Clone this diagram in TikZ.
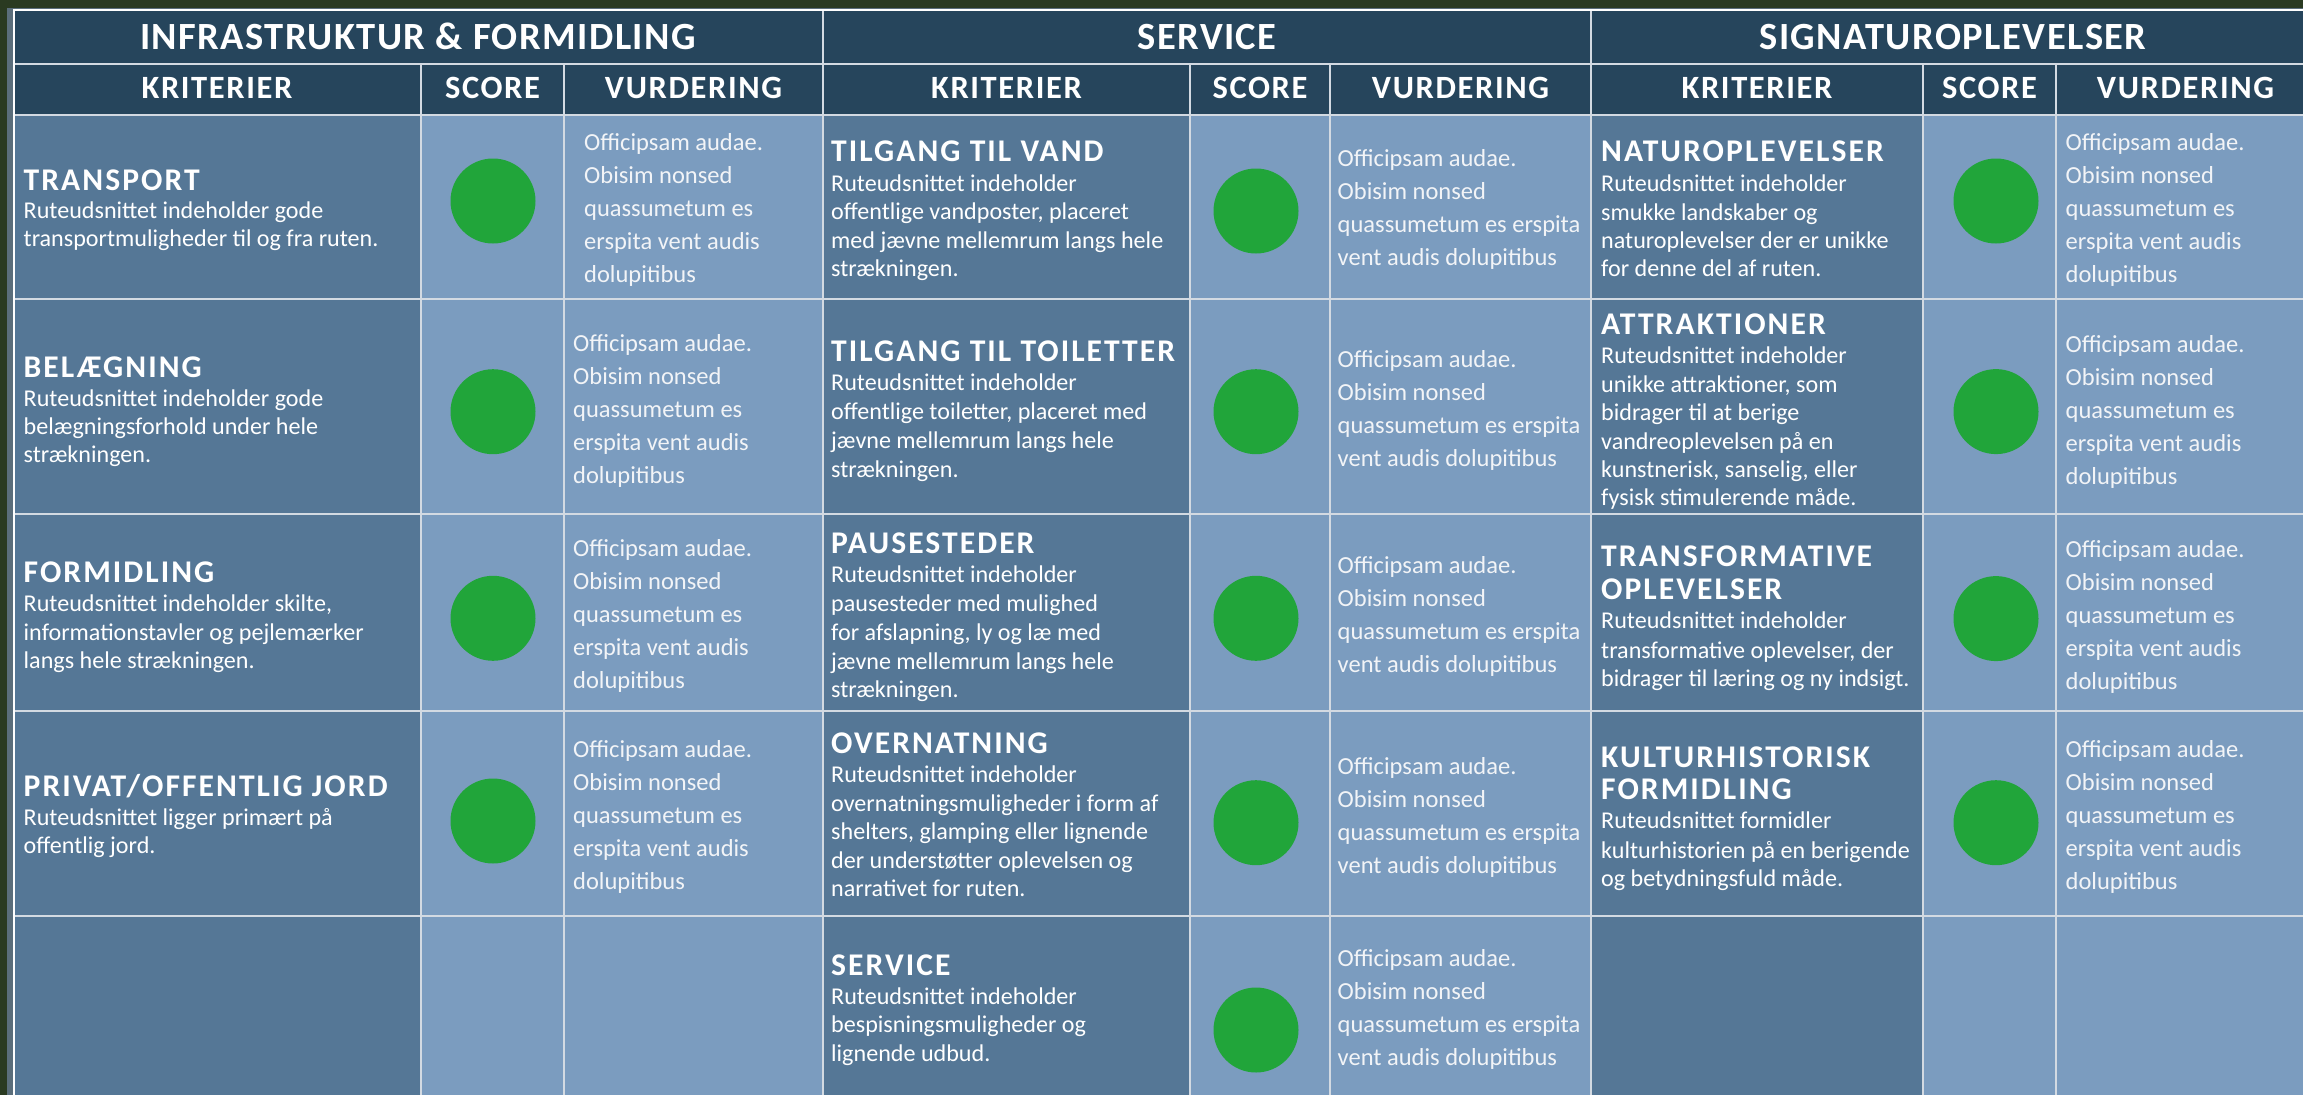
\documentclass[tikz,border=0pt]{standalone}
\usepackage{fontspec}
\setmainfont{Carlito}
\newfontfamily\hfam{Carlito}[LetterSpace=5]
\newfontfamily\gfam{Carlito}[LetterSpace=3.8]
\newfontfamily\cfam{Carlito}[LetterSpace=6.5]
\definecolor{bgGreen}{HTML}{2A3A21}
\definecolor{cStrip}{HTML}{5B6E7B}
\definecolor{cHdr}{HTML}{26455C}
\definecolor{cCrit}{HTML}{557796}
\definecolor{cLight}{HTML}{7B9CBF}
\definecolor{cDot}{HTML}{21A53A}
\definecolor{cGrid}{HTML}{D3DAE2}
\definecolor{cVtext}{HTML}{F2F4F7}
\newcommand\Ls[1]{\vtop{\offinterlineskip #1}}
\newcommand\Lf[1]{\hbox{\smash{#1}}}
\newcommand\Lb[2]{\kern#1pt\hbox{\smash{#2}}}
\newcommand\Tf{\cfam\bfseries\fontsize{31.6}{32}\selectfont}
\newcommand\VFive{\Ls{\Lf{Officipsam audae.}\Lb{33}{Obisim nonsed}\Lb{33}{quassumetum es}\Lb{33}{erspita vent audis}\Lb{33}{dolupitibus}}}
\newcommand\VFour{\Ls{\Lf{Officipsam audae.}\Lb{33}{Obisim nonsed}\Lb{33}{quassumetum es erspita}\Lb{33}{vent audis dolupitibus}}}
\tikzset{
  ttl/.style={anchor=base, inner sep=0pt, text=white, font=\gfam\bfseries\fontsize{38.5}{40}\selectfont},
  hdr/.style={anchor=base, inner sep=0pt, text=white, font=\hfam\bfseries\fontsize{32.5}{34}\selectfont},
  crit/.style={anchor=base west, inner sep=0pt, text=white, font=\fontsize{24.1}{28.6}\selectfont},
  vurd/.style={anchor=base west, inner sep=0pt, text=cVtext, font=\fontsize{24.5}{33}\selectfont},
  dot/.style={circle, fill=cDot, minimum size=85pt, inner sep=0pt},
  gridline/.style={cGrid, line width=1.5pt},
  edge/.style={white, line width=2pt}
}
\begin{document}
\begin{tikzpicture}[x=1pt,y=-1pt]
\useasboundingbox (0,0) rectangle (2303,1095);
\clip (0,0) rectangle (2303,1095);
% background
\fill[bgGreen] (0,0) rectangle (2303,1095);
\fill[cStrip] (7,7.5) rectangle (2330,1150);
\fill[cHdr] (13.5,9.5) rectangle (2315,115);
\foreach \a/\b in {13.5/421, 823/1190, 1591/1923} \fill[cCrit] (\a,115) rectangle (\b,1150);
\foreach \a/\b in {421/823, 1190/1591, 1923/2315} \fill[cLight] (\a,115) rectangle (\b,1150);
% grid
\foreach \y in {64,115,299,514,711,916} \draw[gridline] (13.5,\y) -- (2315,\y);
\foreach \x in {823,1591} \draw[gridline] (\x,9.5) -- (\x,1150);
\foreach \x in {421,564,1190,1330,1923,2056} \draw[gridline] (\x,64) -- (\x,1150);
\draw[edge] (13.5,1150) -- (13.5,9.5) -- (2315,9.5);
% group titles
\node[ttl] (g1) at (418,49.3) {INFRASTRUKTUR \& FORMIDLING};
\node[ttl] (g2) at (1207,49.3) {SERVICE};
\node[ttl] (g3) at (1953,49.3) {SIGNATUROPLEVELSER};
% column headers
\node[hdr] (h11) at (217,98.3) {KRITERIER};
\node[hdr] (h12) at (492.5,98.3) {SCORE};
\node[hdr] (h13) at (693.5,98.3) {VURDERING};
\node[hdr] (h21) at (1006.5,98.3) {KRITERIER};
\node[hdr] (h22) at (1260,98.3) {SCORE};
\node[hdr] (h23) at (1460.5,98.3) {VURDERING};
\node[hdr] (h31) at (1757,98.3) {KRITERIER};
\node[hdr] (h32) at (1989.5,98.3) {SCORE};
\node[hdr] (h33) at (2185.5,98.3) {VURDERING};
% ---------- INFRASTRUKTUR ----------
\node[crit] (k11) at (23.5,190.7) {\Ls{\Lf{\Tf TRANSPORT}\Lb{27.8}{Ruteudsnittet indeholder gode}\Lb{28.4}{transportmuligheder til og fra ruten.}}};
\node[crit] (k12) at (23.5,377.3) {\Ls{\Lf{\Tf BELÆGNING}\Lb{28.7}{Ruteudsnittet indeholder gode}\Lb{28.2}{belægningsforhold under hele}\Lb{28.5}{strækningen.}}};
\node[crit] (k13) at (23.5,582.7) {\Ls{\Lf{\Tf FORMIDLING}\Lb{29}{Ruteudsnittet indeholder skilte,}\Lb{28.3}{informationstavler og pejlemærker}\Lb{28.3}{langs hele strækningen.}}};
\node[crit] (k14) at (23.5,796.7) {\Ls{\Lf{\Tf PRIVAT/OFFENTLIG JORD}\Lb{28.3}{Ruteudsnittet ligger primært på}\Lb{28.3}{offentlig jord.}}};
\node[dot] (s11) at (493,201) {};
\node[dot] (s12) at (493,411.7) {};
\node[dot] (s13) at (493,618.3) {};
\node[dot] (s14) at (493,821) {};
\node[vurd] (v11) at (584,150) {\VFive};
\node[vurd] (v12) at (573,351.7) {\VFive};
\node[vurd] (v13) at (573,556.7) {\VFive};
\node[vurd] (v14) at (573,757) {\VFive};
% ---------- SERVICE ----------
\node[crit] (k21) at (831,161.7) {\Ls{\Lf{\Tf TILGANG TIL VAND}\Lb{29.3}{Ruteudsnittet indeholder}\Lb{28.5}{offentlige vandposter, placeret}\Lb{28.5}{med jævne mellemrum langs hele}\Lb{28.5}{strækningen.}}};
\node[crit] (k22) at (831,361.7) {\Ls{\Lf{\Tf TILGANG TIL TOILETTER}\Lb{28.3}{Ruteudsnittet indeholder}\Lb{29.3}{offentlige toiletter, placeret med}\Lb{29}{jævne mellemrum langs hele}\Lb{29}{strækningen.}}};
\node[crit] (k23) at (831,553.3) {\Ls{\Lf{\Tf PAUSESTEDER}\Lb{29.4}{Ruteudsnittet indeholder}\Lb{29}{pausesteder med mulighed}\Lb{28.3}{for afslapning, ly og læ med}\Lb{29}{jævne mellemrum langs hele}\Lb{28.3}{strækningen.}}};
\node[crit] (k24) at (831,753.3) {\Ls{\Lf{\Tf OVERNATNING}\Lb{29.4}{Ruteudsnittet indeholder}\Lb{28.3}{overnatningsmuligheder i form af}\Lb{28.3}{shelters, glamping eller lignende}\Lb{29}{der understøtter oplevelsen og}\Lb{28.4}{narrativet for ruten.}}};
\node[crit] (k25) at (831,975) {\Ls{\Lf{\Tf SERVICE}\Lb{29}{Ruteudsnittet indeholder}\Lb{28.7}{bespisningsmuligheder og}\Lb{29}{lignende udbud.}}};
\node[dot] (s21) at (1256,211) {};
\node[dot] (s22) at (1256,411.7) {};
\node[dot] (s23) at (1256,618.3) {};
\node[dot] (s24) at (1256,822.7) {};
\node[dot] (s25) at (1256,1030) {};
\node[vurd] (v21) at (1337.5,166.7) {\VFour};
\node[vurd] (v22) at (1337.5,367.3) {\VFour};
\node[vurd] (v23) at (1337.5,573.3) {\VFour};
\node[vurd] (v24) at (1337.5,774) {\VFour};
\node[vurd] (v25) at (1337.5,966) {\VFour};
% ---------- SIGNATUROPLEVELSER ----------
\node[crit] (k31) at (1601,161.7) {\Ls{\Lf{\Tf NATUROPLEVELSER}\Lb{30}{Ruteudsnittet indeholder}\Lb{28.3}{smukke landskaber og}\Lb{28.3}{naturoplevelser der er unikke}\Lb{28.4}{for denne del af ruten.}}};
\node[crit] (k32) at (1601,334) {\Ls{\Lf{\Tf ATTRAKTIONER}\Lb{29.5}{Ruteudsnittet indeholder}\Lb{28.5}{unikke attraktioner, som}\Lb{28.6}{bidrager til at berige}\Lb{28.6}{vandreoplevelsen på en}\Lb{28.6}{kunstnerisk, sanselig, eller}\Lb{27.7}{fysisk stimulerende måde.}}};
\node[crit] (k33) at (1601,566.7) {\Ls{\Lf{\Tf TRANSFORMATIVE}\Lb{32.3}{\Tf OPLEVELSER}\Lb{29.8}{Ruteudsnittet indeholder}\Lb{29.4}{transformative oplevelser, der}\Lb{28.5}{bidrager til læring og ny indsigt.}}};
\node[crit] (k34) at (1601,767.6) {\Ls{\Lf{\Tf KULTURHISTORISK}\Lb{31.8}{\Tf FORMIDLING}\Lb{29.4}{Ruteudsnittet formidler}\Lb{29.4}{kulturhistorien på en berigende}\Lb{28.5}{og betydningsfuld måde.}}};
\node[dot] (s31) at (1996,201) {};
\node[dot] (s32) at (1996,411.6) {};
\node[dot] (s33) at (1996,618.6) {};
\node[dot] (s34) at (1996,822.7) {};
\node[vurd] (v31) at (2065.5,150) {\VFive};
\node[vurd] (v32) at (2065.5,352) {\VFive};
\node[vurd] (v33) at (2065.5,557.3) {\VFive};
\node[vurd] (v34) at (2065.5,757.3) {\VFive};
\end{tikzpicture}
\end{document}
